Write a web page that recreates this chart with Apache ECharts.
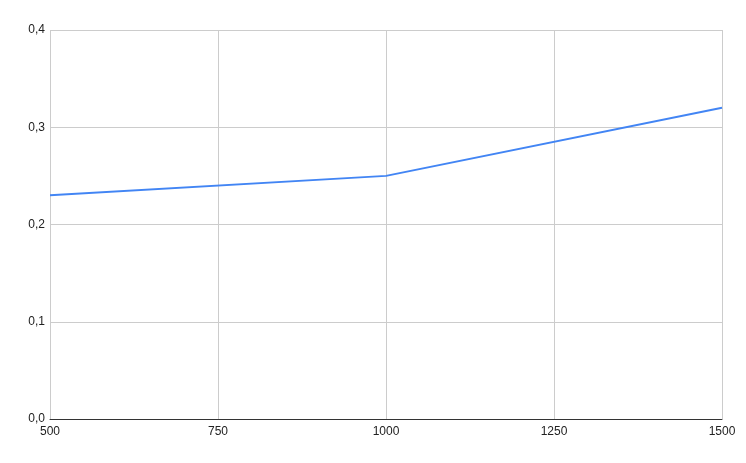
<!DOCTYPE html>
<html><head><meta charset="utf-8">
<script src="https://cdn.jsdelivr.net/npm/echarts@6/dist/echarts.min.js"></script>
<style>html,body{margin:0;padding:0;background:#fff}#c{width:746px;height:463px}</style>
</head><body><div id="c"></div>
<script>
const xValues = [500, 1000, 1500];
const yValues = [0.23, 0.25, 0.32];
const chart = echarts.init(document.getElementById('c'));
chart.setOption({
  animation: false,
  grid: {left: 50, right: 24, top: 30, bottom: 44},
  xAxis: {
    type: 'value', min: 500, max: 1500, interval: 250,
    axisLine: {show: true, lineStyle: {color: '#333', width: 1}},
    axisTick: {show: false},
    splitLine: {show: true, lineStyle: {color: '#ccc'}},
    axisLabel: {color: '#222', fontFamily: '"Liberation Sans", Arial', fontSize: 12, margin: 7,
      formatter: v => String(v)}
  },
  yAxis: {
    type: 'value', min: 0, max: 0.4, interval: 0.1,
    axisLine: {show: false}, axisTick: {show: false},
    splitLine: {show: true, lineStyle: {color: '#ccc'}},
    axisLabel: {color: '#222', fontFamily: '"Liberation Sans", Arial', fontSize: 12, margin: 5,
      formatter: v => v.toFixed(1).replace('.', ',')}
  },
  series: [{
    type: 'line', data: xValues.map((x, i) => [x, yValues[i]]),
    showSymbol: false, lineStyle: {color: '#4285f4', width: 2}
  }]
});
</script></body></html>
